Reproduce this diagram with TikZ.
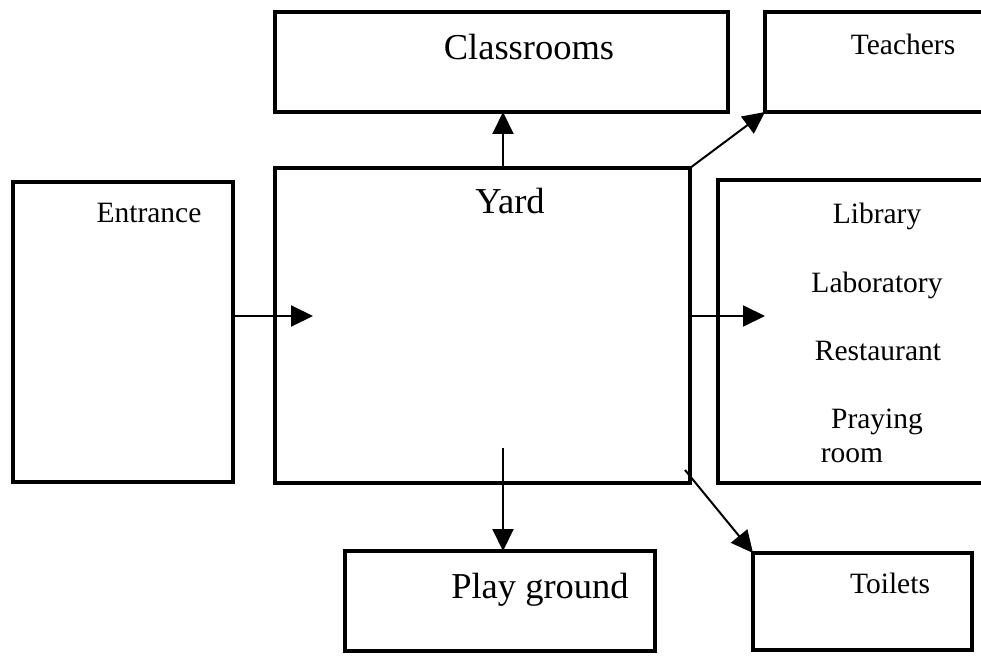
\documentclass[tikz,border=0pt]{standalone}
\usepackage{fontspec}
\setmainfont{Liberation Serif}
\usetikzlibrary{arrows.meta}

\tikzset{
    box/.style={draw, line width=3.5pt, rectangle, inner sep=0pt, outer sep=0pt},
    lbl/.style={anchor=base, inner sep=0pt, font=\fontsize{29.5}{34}\selectfont},
    biglbl/.style={lbl, font=\fontsize{36.5}{42}\selectfont},
    arr/.style={line width=2pt, -{Triangle[length=22pt,width=21pt]}}
}

\begin{document}
\begin{tikzpicture}[x=1pt,y=-1pt]
    \useasboundingbox (0,0) rectangle (981,655);
    \clip (0,0) rectangle (981,655);
    \fill[white] (0,0) rectangle (981,655);

    % boxes
    \node[box, minimum width=453pt, minimum height=100pt] (classrooms) at (501.5,62) {};
    \node[box, minimum width=235pt, minimum height=100pt] (teachers) at (882.5,62) {};
    \node[box, minimum width=220pt, minimum height=300pt] (entrance) at (123,332) {};
    \node[box, minimum width=415pt, minimum height=315pt] (yard) at (482.5,325.5) {};
    \node[box, minimum width=282pt, minimum height=303pt] (rooms) at (859,331.5) {};
    \node[box, minimum width=310pt, minimum height=100pt] (playground) at (500,601) {};
    \node[box, minimum width=219pt, minimum height=97pt] (toilets) at (862.5,601.5) {};

    % labels
    \node[biglbl] (tclass) at (529,60) {Classrooms};
    \node[lbl] (tteach) at (903,55) {Teachers};
    \node[lbl] (tentr) at (149,222) {Entrance};
    \node[biglbl] (tyard) at (510,213) {Yard};
    \node[lbl] (tlib) at (877,223) {Library};
    \node[lbl] (tlab) at (877,292) {Laboratory};
    \node[lbl] (trest) at (878,360) {Restaurant};
    \node[lbl] (tpray) at (877,428) {Praying};
    \node[lbl] (troom) at (852,462) {room};
    \node[biglbl] (tplay) at (540,598) {Play ground};
    \node[lbl] (ttoil) at (890,593) {Toilets};

    % free ends
    \coordinate (yardin) at (313,316);
    \coordinate (roomsin) at (765,316);
    \coordinate (yardlow) at (503,448);
    \coordinate (yardcorner) at (685,470);

    % connectors
    \draw[arr] (entrance.east |- yardin) -- (yardin);
    \draw[arr] (yard.north -| 503,0) -- (classrooms.south -| 503,0);
    \draw[arr] (yard.north east) -- (teachers.south west);
    \draw[arr] (yard.east |- roomsin) -- (roomsin);
    \draw[arr] (yardlow) -- (playground.north -| yardlow);
    \draw[arr] (yardcorner) -- (toilets.north west);
\end{tikzpicture}
\end{document}
